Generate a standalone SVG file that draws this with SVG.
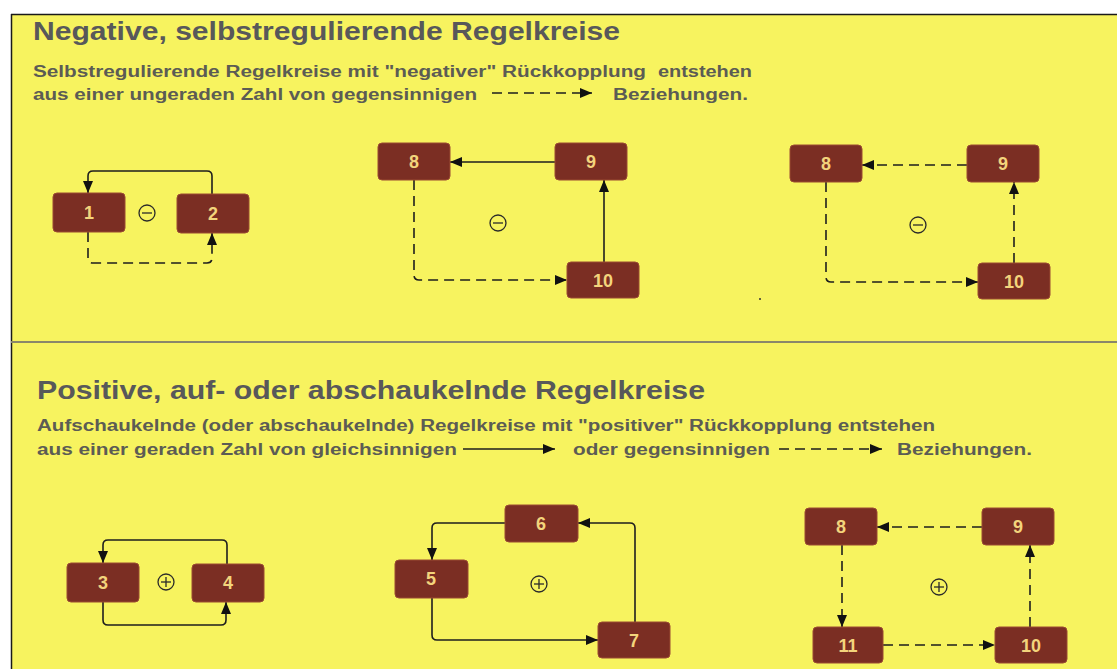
<svg xmlns="http://www.w3.org/2000/svg" width="1117" height="669" viewBox="0 0 1117 669">
  <defs>
    <style>
      .title { font-family: "Liberation Sans", Arial, sans-serif; font-weight: bold; font-size: 25px; fill: #58585a; }
      .sub { font-family: "Liberation Sans", Arial, sans-serif; font-weight: bold; font-size: 16px; fill: #5c5c54; }
      .node rect { fill: #7b2e23; stroke: #9a4a33; stroke-width: 1; }
      .node text { font-family: "Liberation Sans", Arial, sans-serif; font-weight: bold; font-size: 18px; fill: #f3d47c; text-anchor: middle; }
      .edge { fill: none; stroke: #1e1e1e; stroke-width: 1.6; marker-end: url(#arrow); }
      .dash { stroke-dasharray: 10 6; }
      .sign { fill: none; stroke: #2a2a2a; stroke-width: 1.3; }
    </style>
    <marker id="arrow" viewBox="0 0 12 10" refX="12" refY="5" markerWidth="12" markerHeight="10" markerUnits="userSpaceOnUse" orient="auto">
      <path d="M0,0 L12,5 L0,10 Z" fill="#111"/>
    </marker>
  </defs>

  <!-- page and panel -->
  <rect x="0" y="0" width="1117" height="669" fill="#ffffff"/>
  <rect x="11" y="14" width="1106" height="655" fill="#f7f35f"/>
  <line x1="11" y1="14.5" x2="1117" y2="14.5" stroke="#1a1a1a" stroke-width="1.5"/>
  <line x1="11.5" y1="14" x2="11.5" y2="669" stroke="#1a1a1a" stroke-width="1.5"/>
  <line x1="11" y1="342" x2="1117" y2="342" stroke="#8a876a" stroke-width="2"/>
  <circle cx="760" cy="299" r="1" fill="#333"/>

  <!-- headings and explanations -->
  <text class="title" x="33" y="40" textLength="587" lengthAdjust="spacingAndGlyphs">Negative, selbstregulierende Regelkreise</text>
  <text class="sub" x="33" y="77" textLength="613" lengthAdjust="spacingAndGlyphs">Selbstregulierende Regelkreise mit "negativer" Rückkopplung</text>
  <text class="sub" x="658" y="77" textLength="94" lengthAdjust="spacingAndGlyphs">entstehen</text>
  <text class="sub" x="33" y="100" textLength="444" lengthAdjust="spacingAndGlyphs">aus einer ungeraden Zahl von gegensinnigen</text>
  <text class="sub" x="613" y="100" textLength="135" lengthAdjust="spacingAndGlyphs">Beziehungen.</text>

  <text class="title" x="37" y="399" textLength="668" lengthAdjust="spacingAndGlyphs">Positive, auf- oder abschaukelnde Regelkreise</text>
  <text class="sub" x="37" y="431" textLength="898" lengthAdjust="spacingAndGlyphs">Aufschaukelnde (oder abschaukelnde) Regelkreise mit "positiver" Rückkopplung entstehen</text>
  <text class="sub" x="37" y="455" textLength="420" lengthAdjust="spacingAndGlyphs">aus einer geraden Zahl von gleichsinnigen</text>
  <text class="sub" x="573" y="455" textLength="197" lengthAdjust="spacingAndGlyphs">oder gegensinnigen</text>
  <text class="sub" x="897" y="455" textLength="135" lengthAdjust="spacingAndGlyphs">Beziehungen.</text>

  <!-- connectors -->
  <g id="connectors">
    <!-- legend arrows -->
    <path class="edge dash" d="M492,93 H592"/>
    <path class="edge" d="M463,449 H555"/>
    <path class="edge dash" d="M779,449 H882"/>

    <!-- loop 1-2 -->
    <path class="edge" d="M212,194 V176 Q212,171 207,171 H93 Q88,171 88,176 V193"/>
    <path class="edge dash" d="M88,232 V258 Q88,263 93,263 H207 Q212,263 212,258 V233"/>

    <!-- loop 8-9-10 (one dashed) -->
    <path class="edge" d="M555,162 H450"/>
    <path class="edge" d="M604,262 V180"/>
    <path class="edge dash" d="M414,180 V275 Q414,280 419,280 H567"/>

    <!-- loop 8-9-10 (all dashed) -->
    <path class="edge dash" d="M967,165 H862"/>
    <path class="edge dash" d="M1014,263 V182"/>
    <path class="edge dash" d="M826,182 V277 Q826,282 831,282 H978"/>

    <!-- loop 3-4 -->
    <path class="edge" d="M227,564 V545 Q227,540 222,540 H108 Q103,540 103,545 V563"/>
    <path class="edge" d="M103,602 V620 Q103,625 108,625 H221 Q226,625 226,620 V602"/>

    <!-- loop 5-6-7 -->
    <path class="edge" d="M505,523 H437 Q432,523 432,528 V560"/>
    <path class="edge" d="M432,598 V635 Q432,640 437,640 H598"/>
    <path class="edge" d="M635,622 V528 Q635,523 630,523 H578"/>

    <!-- loop 8-9-10-11 -->
    <path class="edge dash" d="M982,527 H877"/>
    <path class="edge dash" d="M842,545 V627"/>
    <path class="edge dash" d="M883,645 H995"/>
    <path class="edge dash" d="M1030,627 V545"/>
  </g>

  <!-- loop signs -->
  <g id="signs">
    <circle class="sign" cx="147" cy="213" r="8"/><line class="sign" x1="142" y1="213" x2="152" y2="213"/>
    <circle class="sign" cx="498" cy="223" r="8"/><line class="sign" x1="493" y1="223" x2="503" y2="223"/>
    <circle class="sign" cx="918" cy="225" r="8"/><line class="sign" x1="913" y1="225" x2="923" y2="225"/>
    <circle class="sign" cx="166" cy="582" r="8"/><line class="sign" x1="161" y1="582" x2="171" y2="582"/><line class="sign" x1="166" y1="577" x2="166" y2="587"/>
    <circle class="sign" cx="539" cy="584" r="8"/><line class="sign" x1="534" y1="584" x2="544" y2="584"/><line class="sign" x1="539" y1="579" x2="539" y2="589"/>
    <circle class="sign" cx="939" cy="587" r="8"/><line class="sign" x1="934" y1="587" x2="944" y2="587"/><line class="sign" x1="939" y1="582" x2="939" y2="592"/>
  </g>

  <!-- nodes: negative loops -->
  <g id="n1" class="node"><rect x="53" y="193" width="72" height="39" rx="4"/><text x="89" y="219">1</text></g>
  <g id="n2" class="node"><rect x="177" y="194" width="72" height="39" rx="4"/><text x="213" y="220">2</text></g>
  <g id="n8a" class="node"><rect x="378" y="143" width="72" height="37" rx="4"/><text x="414" y="168">8</text></g>
  <g id="n9a" class="node"><rect x="555" y="143" width="72" height="37" rx="4"/><text x="591" y="168">9</text></g>
  <g id="n10a" class="node"><rect x="567" y="262" width="72" height="36" rx="4"/><text x="603" y="287">10</text></g>
  <g id="n8b" class="node"><rect x="790" y="145" width="72" height="37" rx="4"/><text x="826" y="170">8</text></g>
  <g id="n9b" class="node"><rect x="967" y="145" width="72" height="37" rx="4"/><text x="1003" y="170">9</text></g>
  <g id="n10b" class="node"><rect x="978" y="263" width="72" height="36" rx="4"/><text x="1014" y="288">10</text></g>

  <!-- nodes: positive loops -->
  <g id="n3" class="node"><rect x="67" y="563" width="72" height="39" rx="4"/><text x="103" y="589">3</text></g>
  <g id="n4" class="node"><rect x="192" y="564" width="72" height="38" rx="4"/><text x="228" y="589">4</text></g>
  <g id="n6" class="node"><rect x="505" y="505" width="73" height="37" rx="4"/><text x="541" y="530">6</text></g>
  <g id="n5" class="node"><rect x="395" y="560" width="73" height="38" rx="4"/><text x="431" y="585">5</text></g>
  <g id="n7" class="node"><rect x="598" y="622" width="72" height="36" rx="4"/><text x="634" y="647">7</text></g>
  <g id="n8c" class="node"><rect x="805" y="508" width="72" height="37" rx="4"/><text x="841" y="533">8</text></g>
  <g id="n9c" class="node"><rect x="982" y="508" width="72" height="37" rx="4"/><text x="1018" y="533">9</text></g>
  <g id="n11" class="node"><rect x="813" y="627" width="70" height="36" rx="4"/><text x="848" y="652">11</text></g>
  <g id="n10c" class="node"><rect x="995" y="627" width="72" height="36" rx="4"/><text x="1031" y="652">10</text></g>
</svg>
